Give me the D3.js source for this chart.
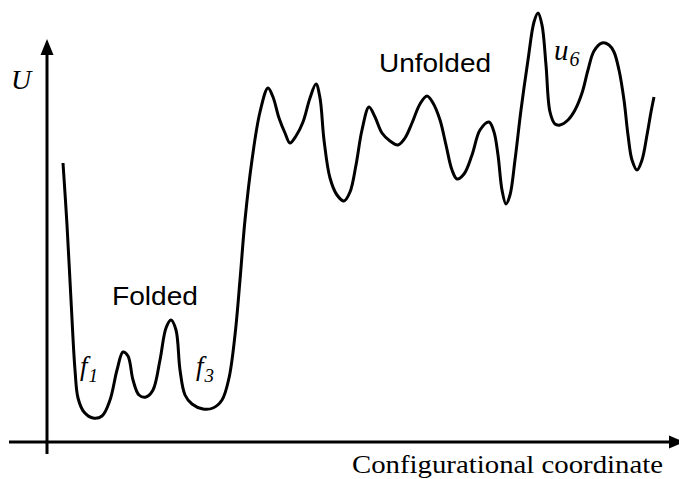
<!DOCTYPE html>
<html>
<head>
<meta charset="utf-8">
<script src="https://cdn.jsdelivr.net/npm/d3@7"></script>
<style>
html,body{margin:0;padding:0;background:#fff;}
svg{display:block;}
</style>
</head>
<body>
<svg id="chart" width="679" height="479"></svg>
<script>
// Configurational coordinate (arbitrary units) of the traced landscape
const coordX = [16,20,24,28,31,37,46,55,63,70,76,81,86,92,99,106,113,119,124,129,133,138,145,156,166,175,182,188,193,198,205,213,221,226,232,238,243,249,256,263,269,273,277,283,290,297,303,309,315,322,328,335,343,351,358,365,373,380,386,393,399,405,410,417,425,433,442,447,451,455,459,463,468,474,481,487,491,495,499,503,508,513,521,528,535,541,547,555,562,567,572,577,581,585,590,595,600,604,607];
// Potential energy U (arbitrary units)
const energyU = [279,217,142,72,44,30,24,26,42,72,90,86,62,47,45,52,82,114,122,112,72,47,38,33,34,42,64,107,162,222,282,330,354,345,324,309,299,306,320,344,358,344,302,264,247,241,250,277,312,335,325,309,301,297,304,319,338,346,339,322,297,272,263,268,287,312,320,310,287,252,238,247,282,332,382,420,429,417,377,330,318,317,322,332,349,372,391,399,397,390,372,342,307,282,272,282,307,330,345];
const axisDomainX = [0, 632];
const axisDomainU = [0, 402];
const labelsText = {
  U: "U",
  xTitle: "Configurational coordinate",
  folded: "Folded",
  unfolded: "Unfolded"
};

const svg = d3.select("#chart");
const x = d3.scaleLinear().domain(axisDomainX).range([47, 679]);
const y = d3.scaleLinear().domain(axisDomainU).range([442, 40]);

// Axes
svg.append("line")
  .attr("x1", x(0)).attr("x2", x(0))
  .attr("y1", y(-12)).attr("y2", y(388))
  .attr("stroke", "#000").attr("stroke-width", 3);
svg.append("path")
  .attr("d", `M${x(0)},${y(403)} L${x(0)-6.5},${y(387)} L${x(0)+6.5},${y(387)} Z`)
  .attr("fill", "#000");

svg.append("line")
  .attr("x1", x(-38)).attr("x2", x(624))
  .attr("y1", y(0)).attr("y2", y(0))
  .attr("stroke", "#000").attr("stroke-width", 3);
svg.append("path")
  .attr("d", `M${x(637)},${y(0)} L${x(622)},${y(0)+6.5} L${x(622)},${y(0)-6.5} Z`)
  .attr("fill", "#000");

// Curve
const pts = coordX.map((c, i) => [c, energyU[i]]);
const line = d3.line()
  .x(d => x(d[0]))
  .y(d => y(d[1]))
  .curve(d3.curveCatmullRom.alpha(0.5));
svg.append("path")
  .datum(pts)
  .attr("d", line)
  .attr("fill", "none")
  .attr("stroke", "#000")
  .attr("stroke-width", 3)
  .attr("stroke-linejoin", "round")
  .attr("stroke-linecap", "butt");

// Labels
svg.append("text")
  .attr("x", 11).attr("y", 89)
  .attr("font-family", "Liberation Serif, Times New Roman, serif")
  .attr("font-style", "italic")
  .attr("font-size", 28)
  .text(labelsText.U);

svg.append("text")
  .attr("x", 352).attr("y", 473)
  .attr("font-family", "Liberation Serif, Times New Roman, serif")
  .attr("font-size", 26)
  .attr("textLength", 311)
  .attr("lengthAdjust", "spacingAndGlyphs")
  .text(labelsText.xTitle);

svg.append("text")
  .attr("x", 112).attr("y", 305)
  .attr("font-family", "Liberation Sans, Arial, sans-serif")
  .attr("font-size", 26)
  .attr("textLength", 86)
  .attr("lengthAdjust", "spacingAndGlyphs")
  .text(labelsText.folded);

svg.append("text")
  .attr("x", 379).attr("y", 72)
  .attr("font-family", "Liberation Sans, Arial, sans-serif")
  .attr("font-size", 26)
  .attr("textLength", 112)
  .attr("lengthAdjust", "spacingAndGlyphs")
  .text(labelsText.unfolded);

function subLabel(px, py, main, sub, size, subSize, dx, dy) {
  const t = svg.append("text")
    .attr("x", px).attr("y", py)
    .attr("font-family", "Liberation Serif, Times New Roman, serif")
    .attr("font-style", "italic")
    .attr("font-size", size);
  t.append("tspan").text(main);
  t.append("tspan").attr("font-size", subSize).attr("dx", dx).attr("dy", dy).text(sub);
}
subLabel(80, 375, "f", "1", 27, 19, 1, 7);
subLabel(196, 375, "f", "3", 27, 19, 1, 7);
subLabel(554, 60, "u", "6", 29, 20, 1, 6);
</script>
</body>
</html>
